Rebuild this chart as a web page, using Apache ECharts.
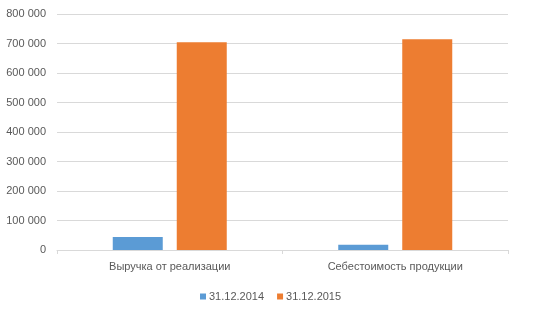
<!DOCTYPE html>
<html><head><meta charset="utf-8">
<script src="https://cdn.jsdelivr.net/npm/echarts@6/dist/echarts.min.js"></script>
<style>html,body{margin:0;padding:0;background:#fff}#c{width:549px;height:312px}</style>
</head><body><div id="c"></div>
<script>
var categories = ['Выручка от реализации', 'Себестоимость продукции'];
var seriesNames = ['31.12.2014', '31.12.2015'];
var values2014 = [44000, 18000];
var values2015 = [704000, 714000];
var chart = echarts.init(document.getElementById('c'));
var font = 'Liberation Sans, Arial, sans-serif';
chart.setOption({
  animation: false,
  textStyle: {fontFamily: font},
  grid: {left: 57, right: 41, top: 14, bottom: 62, containLabel: false},
  legend: {
    data: seriesNames, left: 195, top: 286, itemWidth: 6, itemHeight: 6, itemGap: 13,
    icon: 'rect', textStyle: {fontSize: 11, color: '#595959', fontFamily: font, padding: [0,0,0,-2]}
  },
  xAxis: {
    type: 'category', data: categories,
    axisLine: {lineStyle: {color: '#d9d9d9'}},
    axisTick: {show: true, length: 4, lineStyle: {color: '#d9d9d9'}},
    axisLabel: {fontSize: 11, color: '#595959', margin: 11}
  },
  yAxis: {
    type: 'value', min: 0, max: 800000, interval: 100000,
    axisLine: {show: false}, axisTick: {show: false},
    splitLine: {lineStyle: {color: '#d9d9d9'}},
    axisLabel: {fontSize: 11, color: '#595959', margin: 11,
      formatter: function (v) { return v === 0 ? '0' : String(v).replace(/\B(?=(\d{3})+(?!\d))/g, ' '); }}
  },
  series: [
    {name: seriesNames[0], type: 'bar', data: values2014, barWidth: 50, barGap: '28%', itemStyle: {color: '#5b9bd5'}},
    {name: seriesNames[1], type: 'bar', data: values2015, barWidth: 50, itemStyle: {color: '#ed7d31'}}
  ]
});
</script></body></html>
